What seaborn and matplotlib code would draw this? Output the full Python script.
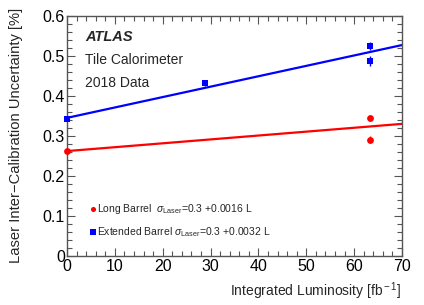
import numpy as np
import pandas as pd
import seaborn as sns
import matplotlib.pyplot as plt
from matplotlib.ticker import MultipleLocator, FuncFormatter

sns.set_style('ticks')
plt.rcParams['font.family'] = ['Liberation Sans', 'DejaVu Sans']
plt.rcParams['mathtext.fontset'] = 'custom'
plt.rcParams['mathtext.rm'] = 'Liberation Sans'
plt.rcParams['mathtext.it'] = 'Liberation Sans:italic'

# measurements
lb_lumi = [0.0, 63.3, 63.3]
lb_unc = [0.262, 0.345, 0.290]
lb_err = [0.004, 0.007, 0.009]

eb_lumi = [0.0, 28.8, 63.3, 63.3]
eb_unc = [0.342, 0.432, 0.525, 0.487]
eb_err = [0.004, 0.007, 0.010, 0.012]

# linear fits
fit_lumi = [0.0, 70.0]
lb_fit = [0.262, 0.330]
eb_fit = [0.345, 0.527]

lb_label = r'Long Barrel  $\sigma_{\rm Laser}$=0.3 +0.0016 L'
eb_label = r'Extended Barrel $\sigma_{\rm Laser}$=0.3 +0.0032 L'

fig = plt.figure(figsize=(4.24, 3.05), dpi=100)
ax = fig.add_axes([0.158, 0.161, 0.790, 0.787])

sns.lineplot(x=fit_lumi, y=lb_fit, color='#ff0000', lw=1.6, ax=ax)
sns.lineplot(x=fit_lumi, y=eb_fit, color='#0000ff', lw=1.6, ax=ax)

ax.errorbar(lb_lumi, lb_unc, yerr=lb_err, fmt='none', ecolor='#ff0000', elinewidth=1)
ax.errorbar(eb_lumi, eb_unc, yerr=eb_err, fmt='none', ecolor='#0000ff', elinewidth=1)
sns.scatterplot(x=lb_lumi, y=lb_unc, color='#ff0000', marker='o', s=24, linewidth=0,
                ax=ax, label=lb_label, zorder=5, clip_on=False)
sns.scatterplot(x=eb_lumi, y=eb_unc, color='#0000ff', marker='s', s=24, linewidth=0,
                ax=ax, label=eb_label, zorder=5, clip_on=False)

ax.set_xlim(0, 70)
ax.set_ylim(0, 0.6)
ax.xaxis.set_major_locator(MultipleLocator(10))
ax.xaxis.set_minor_locator(MultipleLocator(2))
ax.yaxis.set_major_locator(MultipleLocator(0.1))
ax.yaxis.set_minor_locator(MultipleLocator(0.02))
ax.yaxis.set_major_formatter(FuncFormatter(lambda v, p: '0' if abs(v) < 1e-9 else f'{v:.1f}'))
ax.tick_params(which='both', direction='in', top=True, right=True, labelsize=11.5, colors='#555555',
               labelcolor='black')
ax.tick_params(which='major', length=6, width=0.8)
ax.tick_params(which='minor', length=3.5, width=0.8)
ax.tick_params(axis='x', pad=2)
ax.tick_params(axis='y', pad=1.5)
for s in ax.spines.values():
    s.set_color('#555555')
    s.set_linewidth(1)

ax.set_xlabel(r'Integrated Luminosity [fb$^{\rm -1}$]', fontsize=10, loc='right', labelpad=5)
ax.set_ylabel('Laser Inter\u2212Calibration Uncertainty [%]', fontsize=10.6, loc='top')
ax.yaxis.set_label_coords(-0.13, 1.035)

ax.text(0.055, 0.895, 'ATLAS', transform=ax.transAxes, fontsize=10.5, fontweight='bold', style='italic')
ax.text(0.055, 0.80, 'Tile Calorimeter', transform=ax.transAxes, fontsize=10)
ax.text(0.055, 0.705, '2018 Data', transform=ax.transAxes, fontsize=10)

ax.legend(loc='lower left', bbox_to_anchor=(0.035, 0.033), frameon=False, fontsize=7.5,
          handletextpad=0.0, labelspacing=0.85, handlelength=0.9, markerscale=0.75)

fig.savefig('out.png', dpi=100)
